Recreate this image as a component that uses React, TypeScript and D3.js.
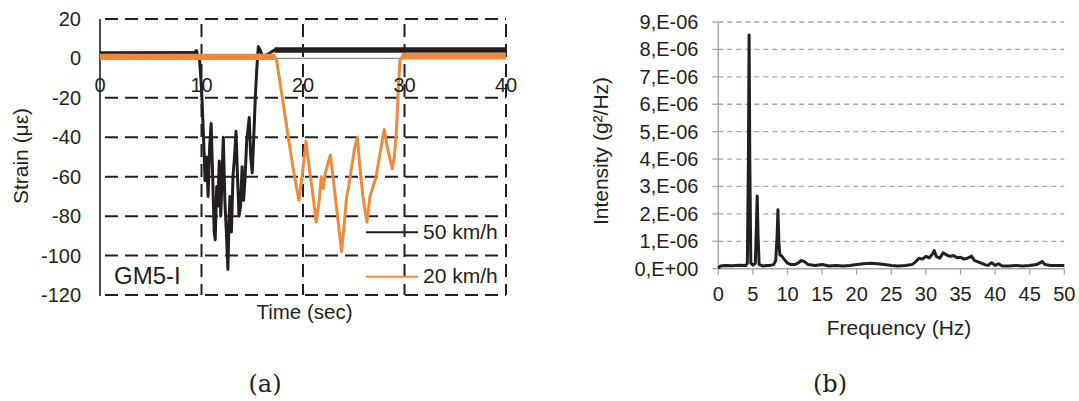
import React from "react";
import * as d3 from "d3";

// ---------- Data: (a) strain time histories ----------
const strainTicksY = [20, 0, -20, -40, -60, -80, -100, -120];
const strainTicksX = [0, 10, 20, 30, 40];
const seriesNames = ["50 km/h", "20 km/h"];

// 50 km/h (black): [time s, strain µε]
const strain50: [number, number][] = [
  [0, 2.5], [3, 2.6], [6, 2.7], [9.3, 3], [9.5, 4], [9.6, 2], [9.8, 0],
  [10.0, -15], [10.2, -40], [10.35, -62], [10.5, -50], [10.65, -70], [10.8, -45],
  [10.95, -33], [11.1, -60], [11.25, -88], [11.35, -92], [11.5, -65], [11.6, -75],
  [11.75, -52], [11.9, -80], [12.05, -55], [12.15, -40], [12.3, -72], [12.45, -88],
  [12.6, -107], [12.7, -85], [12.8, -70], [12.95, -88], [13.1, -60], [13.25, -50],
  [13.4, -37], [13.55, -60], [13.7, -80], [13.85, -75], [14.0, -55], [14.15, -72],
  [14.3, -60], [14.45, -42], [14.6, -35], [14.7, -30], [14.85, -50], [15.0, -58],
  [15.15, -40], [15.3, -20], [15.45, -5], [15.6, 6],
  [15.8, 4], [16.0, 1], [16.5, 2], [17.2, 4.3], [25, 4.3], [32, 4.4], [40, 4.5],
];
// 20 km/h (orange)
const strain20: [number, number][] = [
  [0, 0.8], [8, 0.6], [17.2, 0.8], [17.4, -1], [18.2, -28], [19.0, -55],
  [19.6, -72], [19.9, -60], [20.3, -42], [20.6, -55], [20.9, -66], [21.3, -83],
  [21.6, -72], [21.8, -60], [22.0, -66], [22.2, -58], [22.7, -49], [23.0, -62],
  [23.4, -80], [23.8, -98], [24.1, -82], [24.3, -70], [24.5, -65], [24.8, -55],
  [25.1, -45], [25.35, -40], [25.6, -55], [25.9, -70], [26.3, -83], [26.6, -70],
  [26.9, -65], [27.2, -60], [27.6, -48], [28.0, -36], [28.3, -45], [28.8, -56],
  [29.0, -50], [29.2, -37], [29.4, -15], [29.55, -1], [29.8, 1], [35, 1.2], [40, 1.3],
];
// noise envelopes on the flat parts: [tStart, tEnd, centre, half-width]
const noise50: [number, number, number, number][] = [
  [0, 9.5, 2.6, 1.0],
  [17.2, 40, 4.3, 1.4],
];
const noise20: [number, number, number, number][] = [
  [0, 17.3, 0.8, 1.6],
  [29.7, 40, 1.2, 1.7],
];

// ---------- Data: (b) spectrum ----------
const freqTicks = [0, 5, 10, 15, 20, 25, 30, 35, 40, 45, 50];
const intensityTicks = [0, 1, 2, 3, 4, 5, 6, 7, 8, 9];
const intensityLabels = ["0,E+00", "1,E-06", "2,E-06", "3,E-06", "4,E-06", "5,E-06", "6,E-06", "7,E-06", "8,E-06", "9,E-06"];
// [frequency Hz, intensity in 1e-6 g²/Hz]
const spectrum: [number, number][] = [
  [0, 0.02], [0.3, 0.1], [1, 0.12], [2, 0.11], [3, 0.13], [4.0, 0.12], [4.2, 0.2],
  [4.35, 4.0], [4.45, 8.53], [4.55, 4.0], [4.7, 0.2], [5.0, 0.13], [5.35, 0.2],
  [5.5, 1.5], [5.62, 2.65], [5.75, 1.2], [5.9, 0.15], [6.5, 0.1], [7, 0.12],
  [7.5, 0.12], [8.0, 0.15], [8.3, 0.3], [8.5, 1.2], [8.62, 2.15], [8.75, 1.0],
  [8.9, 0.5], [9.2, 0.45], [9.5, 0.35], [10, 0.2], [10.5, 0.15], [11, 0.15],
  [11.5, 0.2], [12, 0.3], [12.5, 0.25], [13, 0.15], [14, 0.12], [15, 0.15],
  [16, 0.1], [17, 0.12], [18, 0.1], [19, 0.12], [20, 0.15], [21, 0.18], [22, 0.2],
  [23, 0.18], [24, 0.15], [25, 0.12], [26, 0.1], [27, 0.12], [28, 0.15], [28.5, 0.25],
  [29, 0.38], [29.5, 0.35], [30, 0.45], [30.5, 0.4], [31, 0.55], [31.2, 0.66],
  [31.5, 0.45], [32, 0.38], [32.5, 0.58], [33, 0.5], [33.5, 0.45], [34, 0.48],
  [34.5, 0.4], [35, 0.42], [35.5, 0.35], [36, 0.38], [36.6, 0.46], [37, 0.3],
  [37.5, 0.25], [38, 0.2], [38.5, 0.15], [39, 0.12], [39.5, 0.22], [40, 0.12],
  [40.5, 0.18], [41, 0.1], [42, 0.1], [43, 0.12], [44, 0.1], [45, 0.12], [46, 0.15],
  [46.8, 0.26], [47.2, 0.15], [48, 0.12], [49, 0.12], [50, 0.12],
];

const BLACK = "#231f20";
const ORANGE = "#f0893a";
const GRAY = "#a6a6a6";
const FONT = "'Liberation Sans', Arial, sans-serif";

export default function App() {
  const xL = d3.scaleLinear().domain([0, 40]).range([100, 506]);
  const yL = d3.scaleLinear().domain([-120, 20]).range([295, 19]);
  const xR = d3.scaleLinear().domain([0, 50]).range([718.3, 1064.3]);
  const yR = d3.scaleLinear().domain([0, 9]).range([268.7, 22]);

  const lineL = d3.line<[number, number]>().x((d) => xL(d[0])).y((d) => yL(d[1]));
  const lineR = d3.line<[number, number]>().x((d) => xR(d[0])).y((d) => yR(d[1]));
  const band = (b: [number, number, number, number]) =>
    d3.area<number>().x((t) => xL(t)).y0(yL(b[2] - b[3])).y1(yL(b[2] + b[3]))([b[0], b[1]]) || "";

  const dash = "13,7";
  return (
    <svg width={1079} height={401} style={{ position: "absolute", left: 0, top: 0, background: "#fff" }} fontFamily={FONT}>
      {/* ---------- (a) ---------- */}
      {strainTicksY.filter((v) => v !== 0).map((v) => (
        <line key={"h" + v} x1={xL(0)} x2={xL(40)} y1={yL(v)} y2={yL(v)} stroke={BLACK} strokeWidth={2} strokeDasharray={dash} strokeDashoffset={15} />
      ))}
      {strainTicksX.filter((v) => v !== 0).map((v) => (
        <line key={"v" + v} x1={xL(v)} x2={xL(v)} y1={yL(20)} y2={yL(-120)} stroke={BLACK} strokeWidth={2} strokeDasharray={dash} strokeDashoffset={15} />
      ))}
      <line x1={xL(0)} x2={xL(0)} y1={yL(20)} y2={yL(-120) + 1} stroke={BLACK} strokeWidth={1.6} />
      <line x1={xL(0)} x2={xL(40)} y1={yL(0)} y2={yL(0)} stroke="#8c8c8c" strokeWidth={1.2} />
      {noise50.map((b, i) => <path key={"n50" + i} d={band(b)} fill={BLACK} />)}
      <path d={lineL(strain50) || ""} fill="none" stroke={BLACK} strokeWidth={3} strokeLinejoin="round" />
      {noise20.map((b, i) => <path key={"n20" + i} d={band(b)} fill={ORANGE} />)}
      <path d={lineL(strain20) || ""} fill="none" stroke={ORANGE} strokeWidth={3} strokeLinejoin="round" />
      {strainTicksY.map((v) => (
        <text key={"yl" + v} x={81} y={yL(v) + 7} textAnchor="end" fontSize={20} fill={BLACK}>{v}</text>
      ))}
      {strainTicksX.map((v) => (
        <text key={"xl" + v} x={xL(v)} y={91.5} textAnchor="middle" fontSize={20} fill={BLACK}>{v}</text>
      ))}
      <text transform="translate(28,156) rotate(-90)" textAnchor="middle" fontSize={21} fill={BLACK}>Strain (με)</text>
      <text x={304.5} y={319} textAnchor="middle" fontSize={20.5} fill={BLACK}>Time (sec)</text>
      <text x={114} y={284} fontSize={24} fill={BLACK}>GM5-I</text>
      {seriesNames.map((n, i) => (
        <g key={n}>
          <line x1={366} x2={418} y1={232.3 + i * 44.4} y2={232.3 + i * 44.4} stroke={i === 0 ? BLACK : ORANGE} strokeWidth={2} />
          <text x={423} y={238.5 + i * 44.4} fontSize={21} fill={BLACK}>{n}</text>
        </g>
      ))}

      {/* ---------- (b) ---------- */}
      {intensityTicks.filter((v) => v > 0).map((v) => (
        <line key={"g" + v} x1={xR(0)} x2={xR(50)} y1={yR(v)} y2={yR(v)} stroke={GRAY} strokeWidth={1.3} strokeDasharray="5,4" />
      ))}
      <line x1={xR(0)} x2={xR(0)} y1={yR(9)} y2={yR(0)} stroke={GRAY} strokeWidth={1.5} />
      {intensityTicks.map((v) => (
        <line key={"yt" + v} x1={xR(0) - 6} x2={xR(0)} y1={yR(v)} y2={yR(v)} stroke={GRAY} strokeWidth={1.3} />
      ))}
      <line x1={xR(0)} x2={xR(50)} y1={yR(0)} y2={yR(0)} stroke={GRAY} strokeWidth={1.5} />
      {freqTicks.map((v) => (
        <line key={"xt" + v} x1={xR(v)} x2={xR(v)} y1={yR(0)} y2={yR(0) + 6} stroke={GRAY} strokeWidth={1.3} />
      ))}
      <path d={lineR(spectrum) || ""} fill="none" stroke={BLACK} strokeWidth={3} strokeLinejoin="round" />
      {intensityTicks.map((v, i) => (
        <text key={"ryl" + v} x={698.5} y={yR(v) + 7} textAnchor="end" fontSize={20} fill={BLACK}>{intensityLabels[i]}</text>
      ))}
      {freqTicks.map((v) => (
        <text key={"rxl" + v} x={xR(v)} y={301} textAnchor="middle" fontSize={20} fill={BLACK}>{v}</text>
      ))}
      <text transform="translate(608,151) rotate(-90)" textAnchor="middle" fontSize={21} fill={BLACK}>Intensity (g²/Hz)</text>
      <text x={899} y={335} textAnchor="middle" fontSize={21} fill={BLACK}>Frequency (Hz)</text>

      <text x={265} y={392} textAnchor="middle" fontSize={24} fontFamily="'DejaVu Serif', serif" fill={BLACK}>(a)</text>
      <text x={830} y={392} textAnchor="middle" fontSize={24} fontFamily="'DejaVu Serif', serif" fill={BLACK}>(b)</text>
    </svg>
  );
}
